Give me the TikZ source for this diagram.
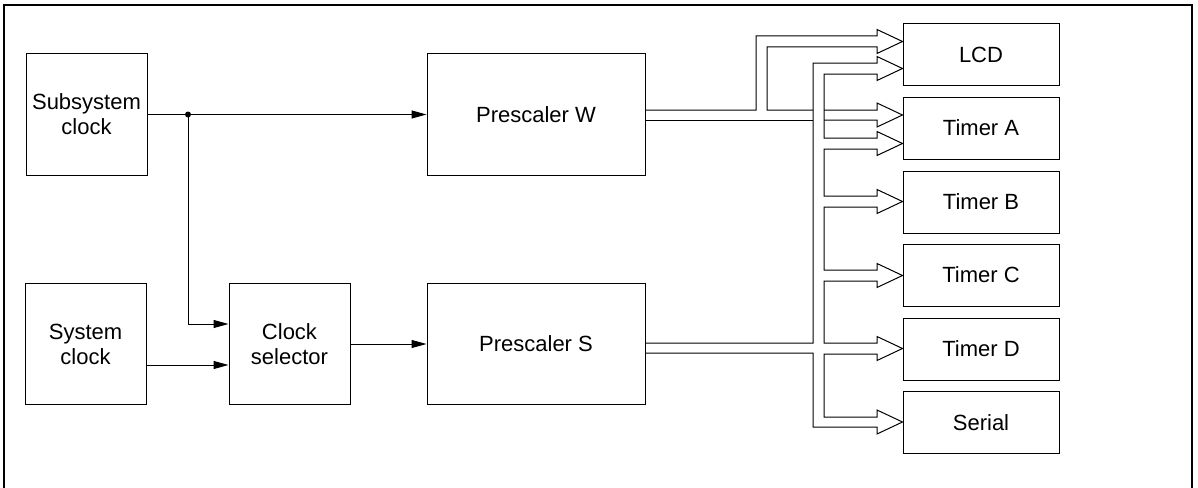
\documentclass[tikz,border=0pt]{standalone}
\usepackage{fontspec}
\setmainfont{Liberation Sans}
\usetikzlibrary{arrows.meta}
\begin{document}
\begin{tikzpicture}[x=1pt,y=-1pt,
  txt/.style={font=\fontsize{22}{25}\selectfont, align=center},
  sq/.style={draw, line width=1pt, inner sep=0pt, txt, minimum width=121pt, minimum height=121pt},
  wide/.style={draw, line width=1pt, inner sep=0pt, txt, minimum width=218pt, minimum height=121pt},
  tgt/.style={draw, line width=1pt, inner sep=0pt, txt, minimum width=156pt, minimum height=62pt},
  sig/.style={line width=1pt, -{Triangle[length=15pt,width=8pt]}},
  bus/.style={line width=1pt, line join=miter},
  frame/.style={line width=1.3pt}]
\useasboundingbox (0,0) rectangle (1198,487);
\draw[frame] (4,492) -- (4,5) -- (1192,5) -- (1192,492);

% left blocks
\node[sq] (sub) at (86.5,114.5) {Subsystem\\clock};
\node[sq] (sys) at (85.5,344) {System\\clock};
\node[sq] (sel) at (289.5,344) {Clock\\selector};
\node[wide] (pw) at (536,114.5) {Prescaler W};
\node[wide] (ps) at (536,344) {Prescaler S};

% targets
\node[tgt] (lcd) at (981,54.5) {LCD};
\node[tgt] (ta) at (981,128) {Timer A};
\node[tgt] (tb) at (981,202) {Timer B};
\node[tgt] (tc) at (981,275) {Timer C};
\node[tgt] (td) at (981,349) {Timer D};
\node[tgt] (ser) at (981,422.5) {Serial};

% single-line connections
\coordinate (j) at (188,114.5);
\draw[sig] (sub.east) -- (pw.west);
\fill (j) circle (3pt);
\draw[sig] (j) |- (sel.west |- 0,324);
\draw[sig] (sys.east |- 0,365) -- (sel.west |- 0,365);
\draw[sig] (sel.east) -- (ps.west);

% W bus
\draw[bus] (pw.east |- 0,110) -- (756,110) -- (756,36) -- (877,36) -- (877,29.5)
  -- (lcd.west |- 0,41.5) -- (877,53.5) -- (877,47) -- (767,47) -- (767,110) -- (813,110);
\draw[bus] (pw.east |- 0,120) -- (813,120);
\draw[bus] (824,110) -- (877,110) -- (877,103) -- (ta.west |- 0,115) -- (877,127) -- (877,120) -- (824,120);

% S bus
\draw[bus] (ps.east |- 0,343) -- (813,343) -- (813,63) -- (877,63) -- (877,56.5)
  -- (lcd.west |- 0,68.5) -- (877,80.5) -- (877,74) -- (824,74)
  -- (824,138) -- (877,138) -- (877,131.5) -- (ta.west |- 0,143.5) -- (877,155.5) -- (877,149) -- (824,149)
  -- (824,196) -- (877,196) -- (877,189.5) -- (tb.west |- 0,201.5) -- (877,213.5) -- (877,207) -- (824,207)
  -- (824,270) -- (877,270) -- (877,263.5) -- (tc.west |- 0,275.5) -- (877,287.5) -- (877,281) -- (824,281)
  -- (824,343) -- (877,343) -- (877,336.5) -- (td.west |- 0,348.5) -- (877,360.5) -- (877,354) -- (824,354)
  -- (824,417) -- (877,417) -- (877,410) -- (ser.west |- 0,422) -- (877,434) -- (877,427)
  -- (813,427) -- (813,353) -- (ps.east |- 0,353);
\end{tikzpicture}
\end{document}
